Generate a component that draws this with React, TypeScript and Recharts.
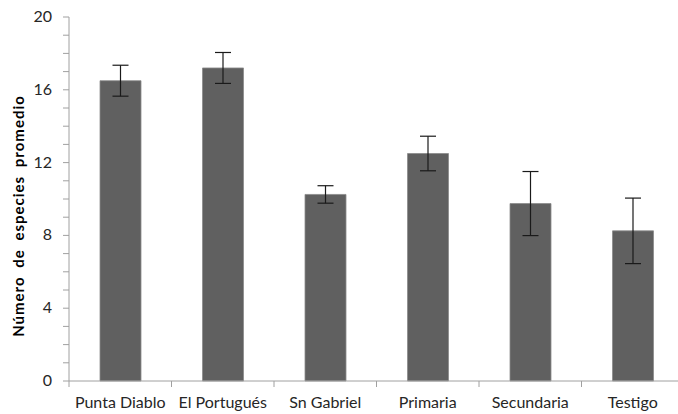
import React from "react";
import { BarChart, Bar, XAxis, YAxis, ErrorBar } from "recharts";

const categories = ["Punta Diablo", "El Portugués", "Sn Gabriel", "Primaria", "Secundaria", "Testigo"];
const means = [16.5, 17.2, 10.25, 12.5, 9.75, 8.25];
const errors = [0.85, 0.85, 0.48, 0.95, 1.76, 1.8];
const yTicks = [0, 1, 2, 3, 4, 5, 6, 7, 8, 9, 10, 11, 12, 13, 14, 15, 16, 17, 18, 19, 20];
const yLabel = "Número de especies promedio";

const data = categories.map((c, i) => ({ name: c, value: means[i], err: errors[i] }));

const FONT = "Lato, 'Open Sans', sans-serif";

const XTick = (props: any) => {
  const { x, y, payload } = props;
  const off = payload.offset || 0;
  return (
    <g>
      <line x1={x - off} y1={y - 8} x2={x - off} y2={y - 2} stroke="#a0a0a0" strokeWidth={1} />
      <text x={x} y={y + 19} textAnchor="middle" fontFamily={FONT} fontSize={16} fill="#262626">
        {payload.value}
      </text>
    </g>
  );
};

const YTick = (props: any) => {
  const { x, y, payload } = props;
  if (payload.value % 4 !== 0) return null;
  return (
    <text x={x} y={y + 5} textAnchor="end" fontFamily={FONT} fontSize={16} fill="#262626">
      {payload.value}
    </text>
  );
};

const YLabel = (props: any) => {
  const vb = props.viewBox;
  const cx = 18;
  const cy = vb.y + vb.height / 2 + 17;
  return (
    <text
      x={cx}
      y={cy}
      transform={`rotate(-90, ${cx}, ${cy})`}
      textAnchor="middle"
      dominantBaseline="central"
      fontFamily={FONT}
      fontWeight="bold"
      fontSize={15}
      letterSpacing={1}
      wordSpacing={4}
      fill="#000"
    >
      {yLabel}
    </text>
  );
};

export default function App() {
  return (
    <div style={{ position: "absolute", left: 0, top: 0, width: 678, height: 414, overflow: "hidden", background: "#fff" }}>
      <BarChart width={690} height={414} data={data} margin={{ top: 17, right: 6, bottom: 3, left: 0 }}>
        <XAxis
          dataKey="name"
          height={30}
          stroke="#a0a0a0"
          tickLine={false}
          tick={<XTick />}
          interval={0}
        />
        <YAxis
          width={69}
          domain={[0, 20]}
          ticks={yTicks}
          interval={0}
          stroke="#a0a0a0"
          tickSize={6}
          tickMargin={11}
          tick={<YTick />}
          label={<YLabel />}
        />
        <Bar dataKey="value" fill="#606060" stroke="#8a8a8a" strokeWidth={0.8} barSize={41} isAnimationActive={false}>
          <ErrorBar dataKey="err" width={8} stroke="#1a1a1a" strokeWidth={1.2} />
        </Bar>
      </BarChart>
    </div>
  );
}
